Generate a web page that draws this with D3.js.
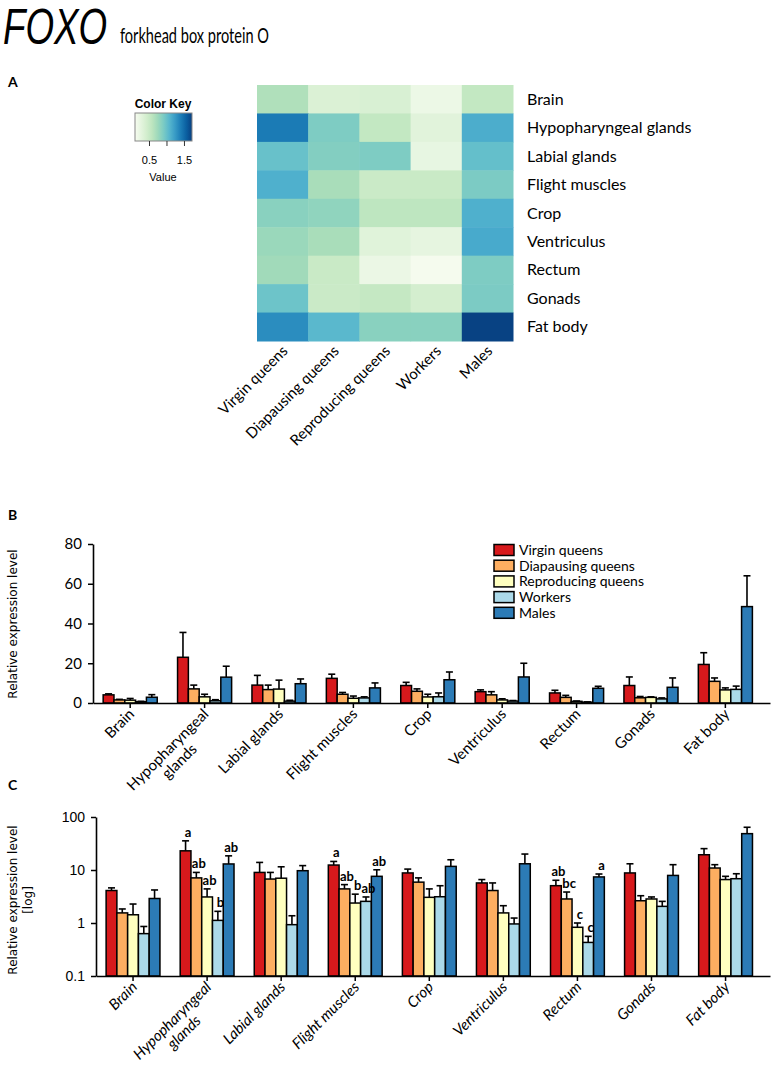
<!DOCTYPE html>
<html>
<head>
<meta charset="utf-8">
<script src="https://cdn.jsdelivr.net/npm/d3@7"></script>
<style>
  body { margin: 0; background: #fff; }
  text { font-family: Lato, "Open Sans", sans-serif; fill: #000; }
</style>
</head>
<body>
<div id="chart"></div>
<script>
const tissues = ["Brain", "Hypopharyngeal glands", "Labial glands", "Flight muscles", "Crop",
                 "Ventriculus", "Rectum", "Gonads", "Fat body"];
const castes = ["Virgin queens", "Diapausing queens", "Reproducing queens", "Workers", "Males"];
const casteColors = ["#d7191c", "#fdae61", "#ffffbf", "#abd9e9", "#2c7bb6"];

// heatmap values, one row per tissue, one column per caste
const heatValues = [
  [0.66, 0.36, 0.38, 0.20, 0.55],
  [1.42, 0.90, 0.55, 0.30, 1.14],
  [1.00, 0.88, 0.90, 0.24, 1.02],
  [1.12, 0.70, 0.50, 0.51, 0.91],
  [0.85, 0.82, 0.58, 0.58, 1.12],
  [0.77, 0.70, 0.31, 0.25, 1.16],
  [0.74, 0.51, 0.21, 0.12, 0.90],
  [0.98, 0.50, 0.54, 0.42, 0.91],
  [1.32, 1.07, 0.85, 0.85, 1.72]
];
const keyDomain = [0.1, 1.73];
const keyTicks = [0.5, 1, 1.5];
const keyTickLabels = ["0.5", "", "1.5"];

// mean relative expression and top of error bar
const meanValues = [
  [4.1, 1.55, 1.43, 0.63, 2.9],
  [23.0, 7.1, 3.1, 1.12, 13.0],
  [9.0, 6.75, 7.0, 0.93, 9.7],
  [12.4, 4.4, 2.38, 2.56, 7.6],
  [8.8, 5.9, 3.05, 3.13, 11.7],
  [5.7, 4.1, 1.55, 0.96, 13.1],
  [5.06, 2.84, 0.83, 0.43, 7.4],
  [8.8, 2.63, 2.84, 2.06, 7.9],
  [19.4, 10.9, 6.6, 6.85, 48.5]
];
const errTops = [
  [4.6, 1.84, 2.28, 0.86, 4.2],
  [35.5, 9.0, 4.4, 1.66, 18.5],
  [13.9, 9.0, 11.5, 1.37, 12.1],
  [14.5, 5.3, 3.5, 3.1, 10.1],
  [10.4, 7.1, 4.4, 5.05, 15.6],
  [6.6, 5.7, 2.12, 1.24, 20.0],
  [6.4, 3.84, 1.0, 0.56, 8.4],
  [13.1, 3.27, 3.1, 2.56, 12.6],
  [25.3, 12.6, 7.6, 8.5, 64.0]
];
const sigLetters = [
  ["", "", "", "", ""],
  ["a", "ab", "ab", "b", "ab"],
  ["", "", "", "", ""],
  ["a", "ab", "b", "ab", "ab"],
  ["", "", "", "", ""],
  ["", "", "", "", ""],
  ["ab", "bc", "c", "c", "a"],
  ["", "", "", "", ""],
  ["", "", "", "", ""]
];

const linTicks = [0, 20, 40, 60, 80];
const logTicks = [0.1, 1, 10, 100];
const logTickLabels = ["0.1", "1", "10", "100"];

const width = 773, height = 1068;

const svg = d3.select("#chart").append("svg")
  .attr("width", width)
  .attr("height", height);

// flat bar data
const bars = [];
tissues.forEach((t, i) => castes.forEach((c, j) => {
  bars.push({ tissue: t, caste: c, ci: j, mean: meanValues[i][j], err: errTops[i][j], letter: sigLetters[i][j] });
}));

function drawTitle() {
  // condensed italic gene name
  svg.append("text")
     .attr("transform", "translate(3,44) scale(0.75,1)")
     .style("font-family", "'Liberation Sans', Arial, sans-serif")
     .style("font-style", "italic")
     .style("font-size", "49px")
     .text("FOXO");
  svg.append("text")
     .attr("x", 120).attr("y", 43)
     .attr("textLength", 149).attr("lengthAdjust", "spacingAndGlyphs")
     .style("font-size", "21px")
     .text("forkhead box protein O");

  [["A", 87], ["B", 520], ["C", 790]].forEach(d => {
    svg.append("text").attr("x", 8).attr("y", d[1])
       .style("font-weight", "bold").style("font-size", "14px")
       .text(d[0]);
  });
}

function drawHeatmap() {
  const x = d3.scaleBand().domain(castes).range([257, 513]);
  const y = d3.scaleBand().domain(tissues).range([85, 341]);
  const color = d3.scaleSequential(d3.interpolateGnBu).domain(keyDomain);

  const cells = [];
  tissues.forEach((t, i) => castes.forEach((c, j) => cells.push({ t, c, v: heatValues[i][j] })));

  svg.append("g").selectAll("rect")
     .data(cells).enter().append("rect")
     .attr("x", d => x(d.c))
     .attr("y", d => y(d.t))
     .attr("width", x.bandwidth() + 0.5)
     .attr("height", y.bandwidth() + 0.5)
     .attr("fill", d => color(d.v));

  svg.append("g").selectAll("text")
     .data(tissues).enter().append("text")
     .attr("x", 527)
     .attr("y", d => y(d) + y.bandwidth() / 2)
     .attr("dy", "0.35em")
     .style("font-size", "16px")
     .text(d => d);

  svg.append("g").selectAll("text")
     .data(castes).enter().append("text")
     .attr("transform", d => `translate(${x(d) + x.bandwidth() / 2 + 6}, 352) rotate(-45)`)
     .attr("text-anchor", "end")
     .style("font-size", "15px")
     .text(d => d);

  // colour key
  const kx = d3.scaleLinear().domain(keyDomain).range([135, 192]);
  const grad = svg.append("defs").append("linearGradient").attr("id", "keygrad");
  d3.range(0, 1.0001, 0.1).forEach(t => {
    grad.append("stop").attr("offset", t).attr("stop-color", d3.interpolateGnBu(t));
  });
  svg.append("rect")
     .attr("x", kx(keyDomain[0])).attr("y", 113)
     .attr("width", kx(keyDomain[1]) - kx(keyDomain[0])).attr("height", 28)
     .attr("fill", "url(#keygrad)")
     .attr("stroke", "#888").attr("stroke-width", 1);

  const keyAxis = d3.axisBottom(kx).tickValues(keyTicks)
    .tickFormat((d, i) => keyTickLabels[i]).tickSize(5).tickSizeOuter(0).tickPadding(10);
  const kg = svg.append("g").attr("transform", "translate(0,141)").call(keyAxis);
  kg.select(".domain").remove();
  kg.selectAll("line").attr("stroke", "#333");
  kg.selectAll("text")
    .style("font-family", "'Liberation Sans', Arial, sans-serif")
    .style("font-size", "11px").attr("fill", "#222");

  svg.append("text").attr("x", 163).attr("y", 108).attr("text-anchor", "middle")
     .style("font-family", "'Liberation Sans', Arial, sans-serif")
     .style("font-weight", "bold").style("font-size", "12px")
     .text("Color Key");
  svg.append("text").attr("x", 163).attr("y", 181).attr("text-anchor", "middle")
     .style("font-family", "'Liberation Sans', Arial, sans-serif")
     .style("font-size", "11px").attr("fill", "#222")
     .text("Value");
}

function xLabels(g, x0, axisY, italic) {
  const lab = g.append("g").selectAll("text")
    .data(tissues).enter().append("text")
    .attr("transform", d => `translate(${x0(d) + x0.bandwidth() / 2 + 5}, ${axisY + 12}) rotate(-45)`)
    .attr("text-anchor", "end")
    .style("font-size", "15px")
    .style("font-style", italic ? "italic" : "normal");
  lab.each(function (d) {
    const el = d3.select(this);
    if (d === "Hypopharyngeal glands") {
      const t1 = el.append("tspan").attr("x", 0).attr("text-anchor", "end").text("Hypopharyngeal");
      const w = t1.node().getComputedTextLength();
      el.append("tspan").attr("x", -w / 2).attr("dy", "1.1em").attr("text-anchor", "middle").text("glands");
    } else {
      el.text(d);
    }
  });
}

function drawBars(yScale, base, axisLeft, axisY, isLog) {
  const x0 = d3.scaleBand().domain(tissues).range([axisLeft, 770]).paddingOuter(0.05).align(0);
  const x1 = d3.scaleBand().domain(castes).range([0, x0.bandwidth()]).paddingOuter(0.94);
  const g = svg.append("g");

  const bw = x1.bandwidth();
  const cx = d => x0(d.tissue) + x1(d.caste) + bw / 2;

  // error bars, upper half only
  const eg = g.append("g").attr("stroke", "#000").attr("stroke-width", 1.6);
  eg.selectAll("line.v").data(bars).enter().append("line")
    .attr("x1", cx).attr("x2", cx)
    .attr("y1", d => yScale(d.mean)).attr("y2", d => yScale(d.err));
  eg.selectAll("line.c").data(bars).enter().append("line")
    .attr("x1", d => cx(d) - 3.5).attr("x2", d => cx(d) + 3.5)
    .attr("y1", d => yScale(d.err)).attr("y2", d => yScale(d.err));

  g.append("g").selectAll("rect").data(bars).enter().append("rect")
   .attr("x", d => x0(d.tissue) + x1(d.caste))
   .attr("y", d => yScale(d.mean))
   .attr("width", bw)
   .attr("height", d => yScale(base) - yScale(d.mean))
   .attr("fill", d => casteColors[d.ci])
   .attr("stroke", "#000").attr("stroke-width", 1.5);

  if (isLog) {
    g.append("g").selectAll("text").data(bars.filter(d => d.letter)).enter().append("text")
     .attr("x", d => cx(d) + 2.5)
     .attr("y", d => yScale(d.err) - 4)
     .attr("text-anchor", "middle")
     .style("font-weight", "bold").style("font-size", "13px")
     .text(d => d.letter);
  }

  // axes
  const xAxis = d3.axisBottom(x0).tickSize(5).tickSizeOuter(0).tickFormat("");
  const xg = g.append("g").attr("transform", `translate(0,${axisY})`).call(xAxis);
  xg.select(".domain").attr("stroke-width", 1.6);
  xg.selectAll("line").attr("stroke-width", 1.5);

  const yAxis = d3.axisLeft(yScale).tickSize(5).tickSizeOuter(0).tickPadding(6);
  if (isLog) yAxis.tickValues(logTicks).tickFormat((d, i) => logTickLabels[i]);
  else yAxis.tickValues(linTicks);
  const yg = g.append("g").attr("transform", `translate(${axisLeft},0)`).call(yAxis);
  yg.select(".domain").attr("stroke-width", 1.6);
  yg.selectAll("line").attr("stroke-width", 1.5);
  yg.selectAll("text")
    .style("font-family", isLog ? "'Liberation Sans', Arial, sans-serif" : "Lato, sans-serif")
    .style("font-size", isLog ? "14px" : "15px");

  xLabels(g, x0, axisY, isLog);
}

function drawPanelB() {
  const y = d3.scaleLinear().domain([0, 80]).range([703, 544]);
  drawBars(y, 0, 93, 703, false);

  svg.append("text")
     .attr("transform", "translate(17,624) rotate(-90)")
     .attr("text-anchor", "middle")
     .style("font-family", "'DejaVu Sans', sans-serif").style("font-size", "12px")
     .text("Relative expression level");

  // legend
  const lg = svg.append("g");
  castes.forEach((c, i) => {
    const ly = 550 + i * 15.7;
    lg.append("rect").attr("x", 494).attr("y", ly - 5.5).attr("width", 20).attr("height", 11)
      .attr("fill", casteColors[i]).attr("stroke", "#000").attr("stroke-width", 1.5);
    lg.append("text").attr("x", 519).attr("y", ly).attr("dy", "0.35em")
      .style("font-size", "14px").text(c);
  });
}

function drawPanelC() {
  const y = d3.scaleLog().domain([0.1, 100]).range([976, 817]);
  drawBars(y, 0.1, 96, 976, true);

  svg.append("text")
     .attr("transform", "translate(17,900) rotate(-90)")
     .attr("text-anchor", "middle")
     .style("font-family", "'DejaVu Sans', sans-serif").style("font-size", "12px")
     .text("Relative expression level");
  svg.append("text")
     .attr("transform", "translate(32,900) rotate(-90)")
     .attr("text-anchor", "middle")
     .style("font-family", "'DejaVu Sans', sans-serif").style("font-size", "12px")
     .text("[log]");
}

drawTitle();
drawHeatmap();
drawPanelB();
drawPanelC();
</script>
</body>
</html>
